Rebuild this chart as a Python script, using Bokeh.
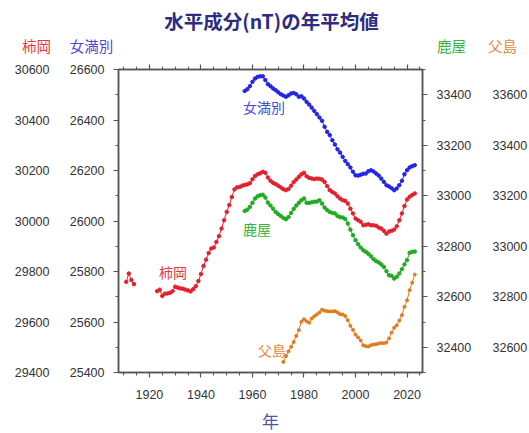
from bokeh.plotting import figure
from bokeh.layouts import column
from bokeh.models import Range1d, LinearAxis, FixedTicker, Label
from bokeh.embed import file_html
from bokeh.resources import INLINE
from bokeh.core.properties import value

# ---------------- data ----------------
kakioka_early_years = [1911, 1912, 1913, 1914]
kakioka_early_vals = [29759, 29792, 29766, 29750]

kakioka_years = list(range(1923, 2024))
kakioka_vals = [
    29722, 29728, 29703, 29712, 29713, 29716, 29722, 29740, 29736, 29733,   # 1923-1932
    29732, 29728, 29725, 29721, 29730, 29742, 29762, 29790, 29822, 29847,   # 1933-1942
    29873, 29891, 29895, 29917, 29940, 29970, 30003, 30036, 30063, 30095,   # 1943-1952
    30125, 30133, 30135, 30140, 30143, 30145, 30150, 30165, 30178, 30185,   # 1953-1962
    30189, 30195, 30191, 30172, 30159, 30151, 30146, 30140, 30133, 30126,   # 1963-1972
    30122, 30127, 30140, 30154, 30164, 30175, 30185, 30191, 30177, 30171,   # 1973-1982
    30168, 30166, 30168, 30167, 30164, 30154, 30138, 30122, 30115, 30109,   # 1983-1992
    30098, 30089, 30082, 30080, 30069, 30049, 30030, 30010, 30003, 29997,   # 1993-2002
    29983, 29985, 29987, 29983, 29983, 29981, 29974, 29970, 29961, 29950,   # 2003-2012
    29958, 29961, 29966, 29979, 30003, 30030, 30059, 30085, 30096, 30103,   # 2013-2022
    30109,                                                                   # 2023
]

memambetsu_years = list(range(1957, 2024))
memambetsu_vals = [
    26515, 26522, 26534, 26551, 26564, 26571, 26573, 26573, 26558, 26542,   # 1957-1966
    26534, 26525, 26518, 26510, 26502, 26497, 26492, 26498, 26505, 26507,   # 1967-1976
    26502, 26492, 26494, 26485, 26472, 26461, 26449, 26436, 26423, 26410,   # 1977-1986
    26397, 26373, 26353, 26340, 26320, 26303, 26284, 26271, 26254, 26238,   # 1987-1996
    26225, 26212, 26195, 26181, 26180, 26183, 26187, 26188, 26197, 26201,   # 1997-2006
    26196, 26188, 26180, 26168, 26155, 26142, 26137, 26130, 26122, 26129,   # 2007-2016
    26142, 26159, 26185, 26201, 26212, 26217, 26221,                        # 2017-2023
]

kanoya_years = list(range(1957, 2024))
kanoya_vals = [
    32940, 32945, 32956, 32972, 32989, 32998, 33002, 33004, 32993, 32973,   # 1957-1966
    32961, 32949, 32936, 32927, 32920, 32912, 32907, 32916, 32932, 32948,   # 1967-1976
    32961, 32972, 32982, 32989, 32972, 32972, 32974, 32976, 32977, 32982,   # 1977-1986
    32969, 32953, 32943, 32936, 32932, 32930, 32920, 32915, 32914, 32908,   # 1987-1996
    32890, 32866, 32844, 32824, 32808, 32795, 32784, 32778, 32770, 32760,   # 1997-2006
    32749, 32741, 32736, 32728, 32718, 32701, 32685, 32683, 32672, 32679,   # 2007-2016
    32692, 32709, 32728, 32745, 32774, 32778, 32779,                        # 2017-2023
]

chichijima_years = list(range(1972, 2024))
chichijima_vals = [
    32542, 32565, 32584, 32602, 32621, 32645, 32668, 32701, 32711, 32703,   # 1972-1981
    32697, 32714, 32723, 32730, 32738, 32749, 32745, 32743, 32742, 32742,   # 1982-1991
    32743, 32738, 32731, 32730, 32724, 32707, 32685, 32669, 32650, 32639,   # 1992-2001
    32627, 32608, 32604, 32603, 32608, 32611, 32612, 32615, 32617, 32616,   # 2002-2011
    32619, 32635, 32658, 32677, 32687, 32706, 32727, 32760, 32786, 32826,   # 2012-2021
    32856, 32888,                                                            # 2022-2023
]

x_major = [1920, 1940, 1960, 1980, 2000, 2020]
x_minor = list(range(1910, 2026, 5))
kak_ticks = list(range(29400, 30601, 200))
mem_ticks = list(range(25400, 26601, 200))
kan_ticks = list(range(32400, 33401, 200))
chi_ticks = list(range(32600, 33601, 200))

title_text = "水平成分(nT)の年平均値"
x_title = "年"
names = ["柿岡", "女満別", "鹿屋", "父島"]

# ---------------- styles ----------------
RED, BLUE, GREEN, ORANGE = "#e3202c", "#2424e6", "#22aa22", "#e37a1e"
RED_T, BLUE_T, GREEN_T, ORANGE_T = "#e23a3e", "#4a4ad6", "#3cb43c", "#e8893a"
JP = "Noto Sans CJK JP"
NUM = "Liberation Sans"
W = 528
HEAD_H = 58


def no_frame_align(fig):
    if "frame_align" in fig.properties():
        fig.frame_align = False


# ---------------- header strip (title + axis names) ----------------
head = figure(width=W, height=HEAD_H, x_range=Range1d(0, W), y_range=Range1d(HEAD_H, 0),
              output_backend="svg", toolbar_location=None,
              x_axis_location=None, y_axis_location=None,
              min_border=0, min_border_left=0, min_border_right=0,
              min_border_top=0, min_border_bottom=0)
head.outline_line_color = None
head.xgrid.visible = False
head.ygrid.visible = False
no_frame_align(head)
head.text(x=[271], y=[20], text=[title_text], text_color="#2c2c80",
          text_font=value(JP), text_font_size=value("19.5px"), text_font_style="bold",
          text_align="center", text_baseline="middle")
head.text(x=[36, 91, 451, 502], y=[45, 45, 45, 45], text=names,
          text_color=[RED_T, BLUE_T, GREEN_T, ORANGE_T],
          text_font=value(JP), text_font_size=value("14.5px"),
          text_align="center", text_baseline="middle")

# ---------------- main chart ----------------
X0, X1 = 1908, 2026
p = figure(frame_width=304, frame_height=303,
           x_range=Range1d(X0, X1), y_range=Range1d(29400, 30600),
           output_backend="svg", toolbar_location=None,
           x_axis_location=None, y_axis_location=None,
           min_border_left=118, min_border_right=W - 118 - 304,
           min_border_top=11, min_border_bottom=55)
p.xgrid.visible = False
p.ygrid.visible = False
p.outline_line_color = "#555555"
p.outline_line_width = 1.5
no_frame_align(p)

p.extra_y_ranges = {
    "mem": Range1d(25400, 26600),
    "kan": Range1d(32300, 33500),
    "chi": Range1d(32500, 33700),
}


def style_axis(ax, show_line=True, standoff=9, tick_out=5):
    ax.major_label_text_font = NUM
    ax.major_label_text_font_size = "12.5px"
    ax.major_label_text_color = "#333333"
    ax.major_label_standoff = standoff
    ax.major_tick_in = 0
    ax.major_tick_out = tick_out
    ax.minor_tick_in = 0
    ax.minor_tick_out = 3
    if show_line:
        ax.axis_line_color = "#555555"
        ax.axis_line_width = 1.5
        ax.major_tick_line_color = "#555555"
        ax.minor_tick_line_color = "#555555"
        ax.major_tick_line_width = 1.2
        ax.minor_tick_line_width = 1.0
    else:
        ax.axis_line_color = None
        ax.major_tick_line_color = None
        ax.minor_tick_line_color = None


def minors(ticks):
    return [t + 100 for t in ticks[:-1]] + [ticks[0] - 100, ticks[-1] + 100]


ax_mem = LinearAxis(y_range_name="mem",
                    ticker=FixedTicker(ticks=mem_ticks, minor_ticks=minors(mem_ticks)))
style_axis(ax_mem, True, 9)
p.add_layout(ax_mem, "left")
ax_kak = LinearAxis(ticker=FixedTicker(ticks=kak_ticks, minor_ticks=[]))
style_axis(ax_kak, False, 17, 0)
p.add_layout(ax_kak, "left")

ax_kan = LinearAxis(y_range_name="kan",
                    ticker=FixedTicker(ticks=kan_ticks, minor_ticks=minors(kan_ticks)))
style_axis(ax_kan, True, 9)
p.add_layout(ax_kan, "right")
ax_chi = LinearAxis(y_range_name="chi", ticker=FixedTicker(ticks=chi_ticks, minor_ticks=[]))
style_axis(ax_chi, False, 18, 0)
p.add_layout(ax_chi, "right")

ax_b = LinearAxis(ticker=FixedTicker(ticks=x_major, minor_ticks=x_minor))
style_axis(ax_b, True, 12)
ax_b.axis_label = x_title
ax_b.axis_label_text_font = JP
ax_b.axis_label_text_font_size = "17px"
ax_b.axis_label_text_font_style = "normal"
ax_b.axis_label_text_color = "#5252a8"
ax_b.axis_label_standoff = 6
p.add_layout(ax_b, "below")
ax_t = LinearAxis(ticker=FixedTicker(ticks=x_major, minor_ticks=x_minor))
style_axis(ax_t, True, 0)
ax_t.major_label_text_color = None
ax_t.major_label_text_font_size = "1px"
p.add_layout(ax_t, "above")


def series(xs, ys, color, rng="default", size=3.5):
    p.line(xs, ys, line_color=color, line_width=1, y_range_name=rng)
    p.scatter(xs, ys, size=size, fill_color=color, line_color=color, y_range_name=rng)


series(kakioka_early_years, kakioka_early_vals, RED)
series(kakioka_years, kakioka_vals, RED)
series(memambetsu_years, memambetsu_vals, BLUE, "mem")
series(kanoya_years, kanoya_vals, GREEN, "kan")
series(chichijima_years, chichijima_vals, ORANGE, "chi", 3)

# in-plot series names (positions given in reference page pixels)
FL, FR, FT, FB = 118.5, 422.5, 69.3, 372.3


def px_x(px):
    return X0 + (px - FL) / (FR - FL) * (X1 - X0)


def px_y(py):
    return 30600 - (py - FT) / (FB - FT) * 1200


def add_text(txt, px, py, color, size="14px"):
    p.add_layout(Label(x=px_x(px), y=px_y(py), text=txt, text_color=color,
                       text_font=JP, text_font_size=size,
                       text_align="center", text_baseline="middle"))


add_text(names[1], 264, 107, BLUE_T)
add_text(names[2], 257, 229, GREEN_T)
add_text(names[0], 173, 272, RED_T)
add_text(names[3], 272, 350, ORANGE_T)

layout = column(head, p, spacing=0)
open("out.html", "w").write(file_html(layout, INLINE))
